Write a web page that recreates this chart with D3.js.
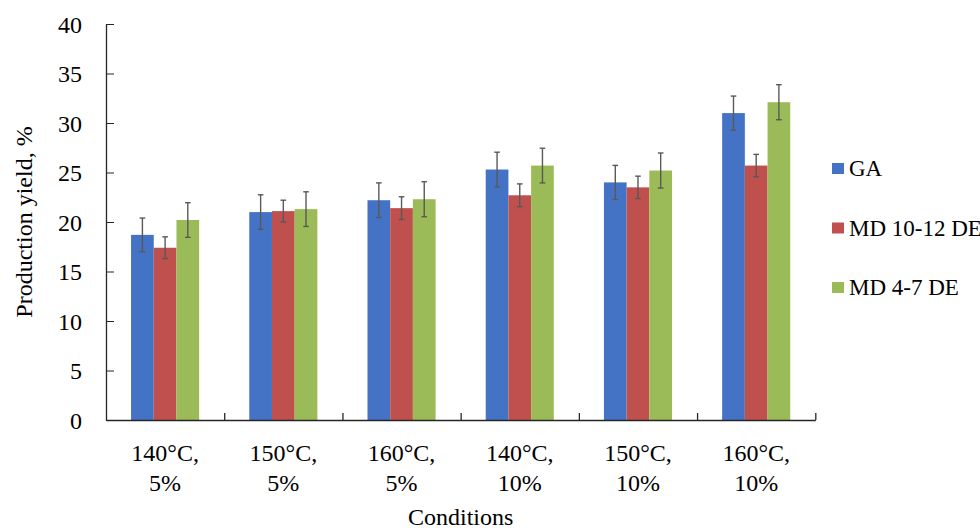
<!DOCTYPE html>
<html>
<head>
<meta charset="utf-8">
<script src="https://cdn.jsdelivr.net/npm/d3@7"></script>
<style>
  body { margin: 0; background: #fff; }
  svg { display: block; font-family: "Liberation Serif", "Times New Roman", serif; }
  .axis path, .axis line { stroke: #262626; }
  .axis text { font-family: "Liberation Serif", "Times New Roman", serif; fill: #000; }
</style>
</head>
<body>
<div id="chart"></div>
<script>
// categories (two-line tick labels)
const categories = ["140°C, 5%", "150°C, 5%", "160°C, 5%", "140°C, 10%", "150°C, 10%", "160°C, 10%"];
const categoryLines = [["140°C,", "5%"], ["150°C,", "5%"], ["160°C,", "5%"], ["140°C,", "10%"], ["150°C,", "10%"], ["160°C,", "10%"]];
const seriesNames = ["GA", "MD 10-12 DE", "MD 4-7 DE"];
const seriesColors = ["#4472C4", "#C0504D", "#9BBB59"];

// values
const gaValues = [18.7, 21.0, 22.2, 25.3, 24.0, 31.0];
const md1012Values = [17.4, 21.1, 21.4, 22.7, 23.5, 25.7];
const md47Values = [20.2, 21.3, 22.3, 25.7, 25.2, 32.1];
const gaErrors = [1.7, 1.75, 1.75, 1.75, 1.72, 1.72];
const md1012Errors = [1.1, 1.1, 1.15, 1.15, 1.13, 1.13];
const md47Errors = [1.75, 1.75, 1.77, 1.75, 1.77, 1.77];
const yTicks = [0, 5, 10, 15, 20, 25, 30, 35, 40];

const values = [gaValues, md1012Values, md47Values];
const errors = [gaErrors, md1012Errors, md47Errors];

const width = 980, height = 528;
const plot = { left: 106, right: 815.3, top: 24, bottom: 420 };

const svg = d3.select('#chart').append('svg').attr('width', width).attr('height', height);

// Scales
const x0 = d3.scaleBand().domain(categories).range([plot.left, plot.right]);
const barW = x0.bandwidth() * 0.192;
const x1 = d3.scaleBand().domain(seriesNames)
  .range([(x0.bandwidth() - 3 * barW) / 2, (x0.bandwidth() + 3 * barW) / 2]);
const y = d3.scaleLinear().domain([0, 40]).range([plot.bottom, plot.top]);

// Bars
const groups = svg.append('g').selectAll('g').data(categories).join('g')
  .attr('transform', d => `translate(${x0(d)},0)`);

groups.selectAll('rect')
  .data((c, i) => seriesNames.map((s, k) => ({ s, k, v: values[k][i] })))
  .join('rect')
  .attr('x', d => x1(d.s)).attr('width', x1.bandwidth())
  .attr('y', d => y(d.v)).attr('height', d => y(0) - y(d.v))
  .attr('fill', d => seriesColors[d.k]);

// Error bars
const errs = groups.selectAll('g.err')
  .data((c, i) => seriesNames.map((s, k) => ({ s, v: values[k][i], e: errors[k][i] })))
  .join('g').attr('class', 'err')
  .attr('transform', d => `translate(${x1(d.s) + x1.bandwidth() / 2},0)`)
  .attr('stroke', '#595959').attr('stroke-width', 1.4);
errs.append('line').attr('x1', 0).attr('x2', 0).attr('y1', d => y(d.v + d.e)).attr('y2', d => y(d.v - d.e));
errs.append('line').attr('x1', -2.8).attr('x2', 2.8).attr('y1', d => y(d.v + d.e)).attr('y2', d => y(d.v + d.e));
errs.append('line').attr('x1', -2.8).attr('x2', 2.8).attr('y1', d => y(d.v - d.e)).attr('y2', d => y(d.v - d.e));

// Y axis (ticks point inside)
const axisY = svg.append('g').attr('class', 'axis').attr('transform', `translate(${plot.left},0)`)
  .call(d3.axisLeft(y).tickValues(yTicks).tickSize(-8).tickSizeOuter(0).tickPadding(24));
axisY.selectAll('text').attr('font-size', 24).attr('dy', '0.34em');
axisY.select('.domain').attr('stroke-width', 1.3);

// X axis: boundary ticks pointing up, labels at group centres
const bounds = d3.scaleLinear().domain([0, categories.length]).range([plot.left, plot.right]);
const axisX = svg.append('g').attr('class', 'axis').attr('transform', `translate(0,${plot.bottom})`)
  .call(d3.axisBottom(bounds).tickValues(d3.range(1, categories.length + 1)).tickSize(-7).tickSizeOuter(0).tickFormat(''));
axisX.select('.domain').attr('stroke-width', 1.5);
axisX.selectAll('.tick line').attr('stroke-width', 1.3);

svg.append('g').selectAll('text').data(categories).join('text')
  .attr('text-anchor', 'middle').attr('font-size', 24)
  .attr('transform', d => `translate(${x0(d) + x0.bandwidth() / 2},${plot.bottom + 41})`)
  .selectAll('tspan').data((d, i) => categoryLines[i]).join('tspan')
  .attr('x', 0).attr('y', (d, j) => j * 30).text(d => d);

// Axis titles
svg.append('text').attr('text-anchor', 'middle').attr('font-size', 24)
  .attr('x', (plot.left + plot.right) / 2).attr('y', 525).text('Conditions');
svg.append('text').attr('text-anchor', 'middle').attr('font-size', 24)
  .attr('transform', `translate(32,${(plot.top + plot.bottom) / 2})rotate(-90)`).text('Production yield, %');

// Legend
const legend = svg.append('g').attr('transform', 'translate(832,0)');
const legendRows = legend.selectAll('g').data(seriesNames).join('g')
  .attr('transform', (d, i) => `translate(0,${163 + i * 59.5})`);
legendRows.append('rect').attr('width', 12).attr('height', 11).attr('fill', (d, i) => seriesColors[i]);
legendRows.append('text').attr('x', 17).attr('y', 13).attr('font-size', 23).text(d => d);
</script>
</body>
</html>
